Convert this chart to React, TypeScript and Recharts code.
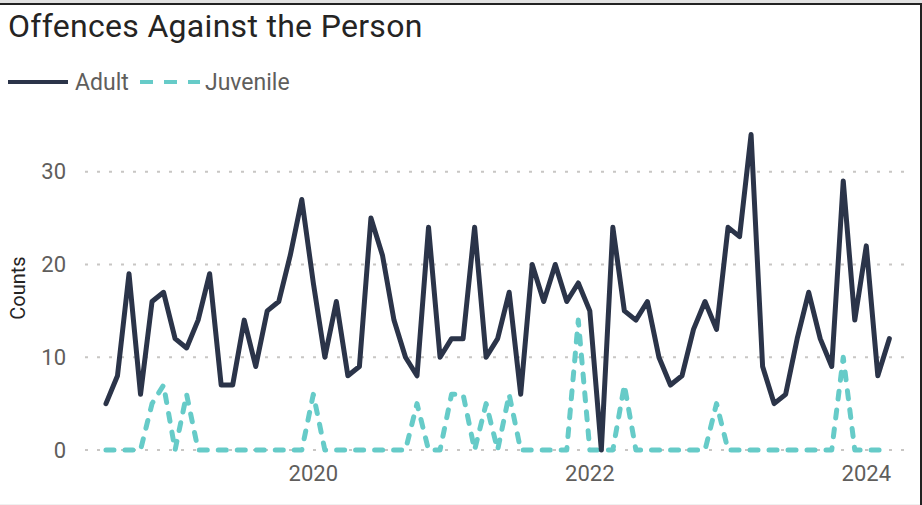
import React from 'react';
import { LineChart, Line, XAxis, YAxis, ReferenceLine } from 'recharts';

const months = [
  '2018-07','2018-08','2018-09','2018-10','2018-11','2018-12',
  '2019-01','2019-02','2019-03','2019-04','2019-05','2019-06','2019-07','2019-08','2019-09','2019-10','2019-11','2019-12',
  '2020-01','2020-02','2020-03','2020-04','2020-05','2020-06','2020-07','2020-08','2020-09','2020-10','2020-11','2020-12',
  '2021-01','2021-02','2021-03','2021-04','2021-05','2021-06','2021-07','2021-08','2021-09','2021-10','2021-11','2021-12',
  '2022-01','2022-02','2022-03','2022-04','2022-05','2022-06','2022-07','2022-08','2022-09','2022-10','2022-11','2022-12',
  '2023-01','2023-02','2023-03','2023-04','2023-05','2023-06','2023-07','2023-08','2023-09','2023-10','2023-11','2023-12',
  '2024-01','2024-02','2024-03',
];

const adult = [
  5, 8, 19, 6, 16, 17,
  12, 11, 14, 19, 7, 7, 14, 9, 15, 16, 21, 27,
  18, 10, 16, 8, 9, 25, 21, 14, 10, 8, 24, 10,
  12, 12, 24, 10, 12, 17, 6, 20, 16, 20, 16, 18,
  15, 0, 24, 15, 14, 16, 10, 7, 8, 13, 16, 13,
  24, 23, 34, 9, 5, 6, 12, 17, 12, 9, 29, 14,
  22, 8, 12,
];

const juvenile = [
  0, 0, 0, 0, 5, 7,
  0, 6, 0, 0, 0, 0, 0, 0, 0, 0, 0, 0,
  6, 0, 0, 0, 0, 0, 0, 0, 0, 5, 0, 0,
  6, 6, 0, 5, 0, 6, 0, 0, 0, 0, 0, 14,
  0, 0, 0, 7, 0, 0, 0, 0, 0, 0, 0, 5,
  0, 0, 0, 0, 0, 0, 0, 0, 0, 0, 10, 0,
  0, 0, 0,
];

const xTickMonths = ['2020-01', '2022-01', '2024-01'];
const xTickLabels = ['2020', '2022', '2024'];
const yTicks = [0, 10, 20, 30];

const title = 'Offences Against the Person';
const seriesNames = ['Adult', 'Juvenile'];
const yLabel = 'Counts';

const ADULT_COLOR = '#2B3449';
const JUV_COLOR = '#66CBC8';
const TEXT_GRAY = '#605E5C';
const TEXT_DARK = '#252423';

const data = months.map((m, i) => ({ t: i, month: m, adult: adult[i], juvenile: juvenile[i] }));
const xTicks = xTickMonths.map((m) => months.indexOf(m));

export default function App() {
  return (
    <div style={{ position: 'absolute', left: 0, top: 0, width: 922, height: 505, background: '#fff', overflow: 'hidden' }}>
      <LineChart width={922} height={505} data={data} margin={{ top: 116, right: 17, bottom: 25, left: 0 }}>
        <XAxis
          dataKey="t"
          type="number"
          domain={[-1.82, 69.36]}
          ticks={xTicks}
          tickFormatter={(v: number) => xTickLabels[xTicks.indexOf(v)] ?? ''}
          axisLine={false}
          tickLine={false}
          tickSize={0}
          tickMargin={15}
          height={30}
          tick={{ fill: TEXT_GRAY, fontSize: 22, fontFamily: 'Roboto' }}
          interval={0}
        />
        <YAxis
          type="number"
          domain={[0, 36]}
          ticks={yTicks}
          axisLine={false}
          tickLine={false}
          tickSize={0}
          tickMargin={19}
          width={85}
          tick={{ fill: TEXT_GRAY, fontSize: 22, fontFamily: 'Roboto' }}
          interval={0}
        />
        {yTicks.map((v) => (
          <ReferenceLine key={v} y={v} stroke="#C8C6C4" strokeWidth={2} strokeDasharray="3 9" ifOverflow="extendDomain" />
        ))}
        <Line
          type="linear"
          dataKey="juvenile"
          name={seriesNames[1]}
          stroke={JUV_COLOR}
          strokeWidth={5}
          strokeDasharray="8 11"
          strokeLinecap="round"
          strokeLinejoin="round"
          dot={false}
          activeDot={false}
          isAnimationActive={false}
        />
        <Line
          type="linear"
          dataKey="adult"
          name={seriesNames[0]}
          stroke={ADULT_COLOR}
          strokeWidth={5}
          strokeLinejoin="round"
          strokeLinecap="round"
          dot={false}
          activeDot={false}
          isAnimationActive={false}
        />
      </LineChart>
      <svg width={922} height={505} style={{ position: 'absolute', left: 0, top: 0, pointerEvents: 'none' }}>
        <rect x={0} y={0} width={922} height={3} fill="#E1E1E1" />
        <rect x={0} y={3} width={922} height={2} fill="#222" />
        <rect x={920} y={3} width={2} height={502} fill="#222" />
        <rect x={0} y={504} width={920} height={1} fill="#F0F0F0" />
        <text x={8} y={37} fontFamily="Roboto" fontSize={32} fill={TEXT_DARK} letterSpacing={0.3}>{title}</text>
        <line x1={8} y1={82} x2={68} y2={82} stroke={ADULT_COLOR} strokeWidth={4} />
        <text x={75} y={90} fontFamily="Roboto" fontSize={23} fill={TEXT_GRAY}>{seriesNames[0]}</text>
        <line x1={140} y1={82} x2={200} y2={82} stroke={JUV_COLOR} strokeWidth={4} strokeDasharray="13 11" />
        <text x={205} y={90} fontFamily="Roboto" fontSize={23} fill={TEXT_GRAY}>{seriesNames[1]}</text>
        <text x={25} y={288} fontFamily="Roboto" fontSize={20} fill={TEXT_DARK} textAnchor="middle" transform="rotate(-90 25 288)">{yLabel}</text>
      </svg>
    </div>
  );
}
